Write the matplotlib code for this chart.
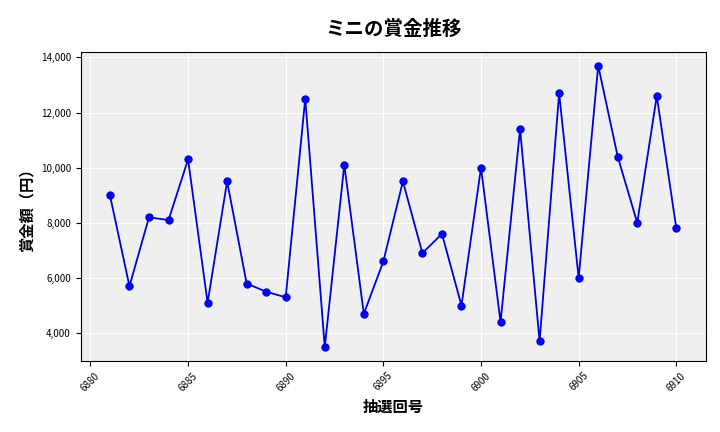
import matplotlib
matplotlib.use("Agg")
import matplotlib.pyplot as plt
from matplotlib.ticker import FuncFormatter

plt.rcParams['font.family'] = ['Noto Sans CJK JP', 'DejaVu Sans']

draws = list(range(6881, 6911))
prizes = [9000, 5700, 8200, 8100, 10300, 5100, 9500, 5800, 5500, 5300,
          12500, 3500, 10100, 4700, 6600, 9500, 6900, 7600, 5000, 10000,
          4400, 11400, 3700, 12700, 6000, 13700, 10400, 8000, 12600, 7800]

fig, ax = plt.subplots(figsize=(7.2, 4.32), dpi=100)
ax.set_facecolor('#efefef')
ax.plot(draws, prizes, color='#0000dd', marker='o', markersize=5, linewidth=1.3, markerfacecolor='#0000ff')
ax.grid(True, color='white', linewidth=0.8)
ax.set_axisbelow(True)
ax.set_xticks([6880, 6885, 6890, 6895, 6900, 6905, 6910])
ax.set_yticks([4000, 6000, 8000, 10000, 12000, 14000])
ax.yaxis.set_major_formatter(FuncFormatter(lambda v, p: f"{int(v):,}"))
ax.tick_params(axis='x', labelrotation=45, labelsize=7)
ax.tick_params(axis='y', labelsize=7)
ax.set_xlim(6879.5, 6911.5)
ax.set_ylim(3000, 14200)
ax.set_title('ミニの賞金推移', fontsize=14, fontweight='bold', pad=12)
ax.set_xlabel('抽選回号', fontsize=11, fontweight='bold')
ax.set_ylabel('賞金額（円）', fontsize=11, fontweight='bold')
fig.subplots_adjust(left=0.112, right=0.98, top=0.88, bottom=0.165)
fig.savefig('out.png', dpi=100)
